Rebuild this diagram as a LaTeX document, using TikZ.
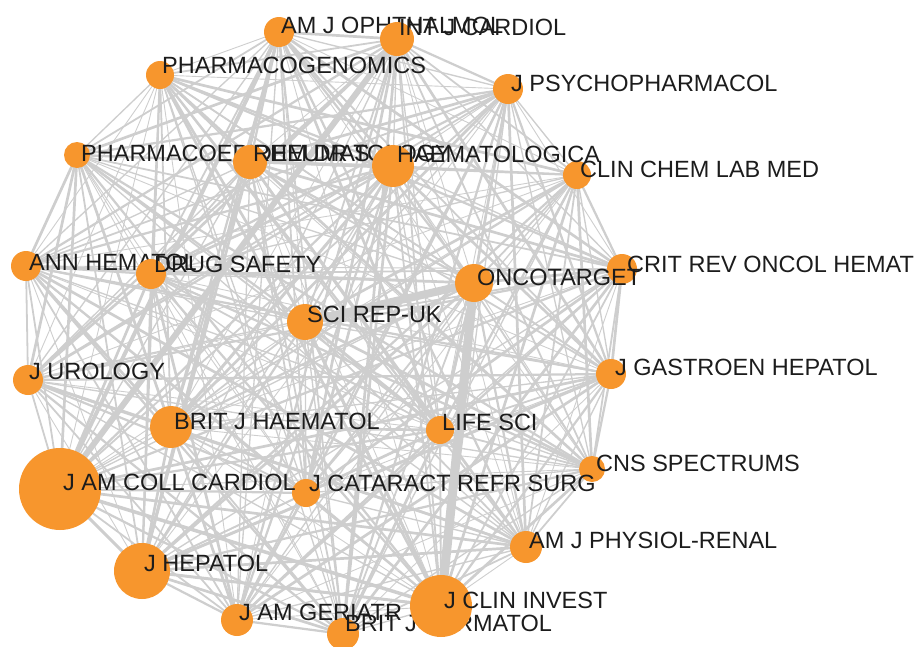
\documentclass[tikz,border=0pt]{standalone}
\usepackage{fontspec}
\setmainfont{Liberation Sans}
\definecolor{nodeor}{RGB}{247,150,45}
\definecolor{edgegr}{RGB}{206,206,206}
\definecolor{labtx}{RGB}{28,28,28}
\begin{document}
\begin{tikzpicture}[x=1pt,y=-1pt,
  jn/.style={circle, fill=nodeor, draw=none, inner sep=0pt, minimum size=#1},
  lab/.style={anchor=base west, inner sep=0pt, text=labtx, font=\fontsize{23.5}{26}\selectfont},
  edge/.style={draw=edgegr, line cap=round}]
\useasboundingbox (0,0) rectangle (922,646);
% node centres
\coordinate (ajo) at (279,32);
\coordinate (ijc) at (397,39);
\coordinate (pgx) at (160,75);
\coordinate (jpp) at (508,89);
\coordinate (pde) at (77,155);
\coordinate (rhe) at (250,162);
\coordinate (hae) at (393,166);
\coordinate (ccl) at (577,175);
\coordinate (ann) at (26,266);
\coordinate (dru) at (151,274);
\coordinate (onc) at (474,283);
\coordinate (crit) at (622,269);
\coordinate (sci) at (305,322);
\coordinate (uro) at (28,380);
\coordinate (gas) at (611,374);
\coordinate (bjh) at (171,427);
\coordinate (life) at (440,430);
\coordinate (cns) at (592,469);
\coordinate (jacc) at (60,489);
\coordinate (cat) at (306,493);
\coordinate (phy) at (526,547);
\coordinate (hep) at (142,571);
\coordinate (jci) at (441,606);
\coordinate (ger) at (237,620);
\coordinate (bjd) at (343,634);
% all links
\foreach \a [count=\i] in {ajo,ijc,pgx,jpp,pde,rhe,hae,ccl,ann,dru,onc,crit,sci,uro,gas,bjh,life,cns,jacc,cat,phy,hep,jci,ger,bjd}{
  \foreach \b [count=\j] in {ajo,ijc,pgx,jpp,pde,rhe,hae,ccl,ann,dru,onc,crit,sci,uro,gas,bjh,life,cns,jacc,cat,phy,hep,jci,ger,bjd}{
    \ifnum\j>\i
      \pgfmathsetmacro{\w}{0.9+0.45*mod(\i*7+\j*11,5)}
      \draw[edge, line width=\w pt] (\a) -- (\b);
    \fi
  }
}
% strong links
\draw[edge, line width=9pt] (onc) -- (jci);
\draw[edge, line width=8pt] (sci) -- (onc);
\draw[edge, line width=6pt] (ijc) -- (jacc);
\draw[edge, line width=4pt] (jacc) -- (ajo);
\draw[edge, line width=3.5pt] (jacc) -- (jci);
\draw[edge, line width=3pt] (sci) -- (jci);
\draw[edge, line width=3pt] (hep) -- (gas);
\draw[edge, line width=3pt] (hae) -- (bjh);
\draw[edge, line width=3pt] (onc) -- (life);
\draw[edge, line width=3pt] (sci) -- (life);
\draw[edge, line width=3pt] (jacc) -- (hep);
\draw[edge, line width=3pt] (hep) -- (jci);
% nodes and labels, small first
\node[jn=26] (pde-n) at (pde) {}; \node[lab] (pde-l) at (81,161) {PHARMACOEPIDEM DR S};
\node[jn=26] (cns-n) at (cns) {}; \node[lab] (cns-l) at (596,471) {CNS SPECTRUMS};
\node[jn=28] (pgx-n) at (pgx) {}; \node[lab] (pgx-l) at (162,73) {PHARMACOGENOMICS};
\node[jn=28] (ccl-n) at (ccl) {}; \node[lab] (ccl-l) at (580,177) {CLIN CHEM LAB MED};
\node[jn=28] (life-n) at (life) {}; \node[lab] (life-l) at (442,430) {LIFE SCI};
\node[jn=28] (cat-n) at (cat) {}; \node[lab] (cat-l) at (309,491) {J CATARACT REFR SURG};
\node[jn=30] (ajo-n) at (ajo) {}; \node[lab] (ajo-l) at (281,33) {AM J OPHTHALMOL};
\node[jn=30] (jpp-n) at (jpp) {}; \node[lab] (jpp-l) at (511,91) {J PSYCHOPHARMACOL};
\node[jn=30] (ann-n) at (ann) {}; \node[lab] (ann-l) at (29,270) {ANN HEMATOL};
\node[jn=30] (dru-n) at (dru) {}; \node[lab] (dru-l) at (154,272) {DRUG SAFETY};
\node[jn=30] (crit-n) at (crit) {}; \node[lab] (crit-l) at (627,272) {CRIT REV ONCOL HEMAT};
\node[jn=30] (uro-n) at (uro) {}; \node[lab] (uro-l) at (29,379) {J UROLOGY};
\node[jn=30] (gas-n) at (gas) {}; \node[lab] (gas-l) at (615,375) {J GASTROEN HEPATOL};
\node[jn=32] (phy-n) at (phy) {}; \node[lab] (phy-l) at (529,548) {AM J PHYSIOL-RENAL};
\node[jn=32] (bjd-n) at (bjd) {}; \node[lab] (bjd-l) at (345,631) {BRIT J DERMATOL};
\node[jn=32] (ger-n) at (ger) {}; \node[lab] (ger-l) at (239,620) {J AM GERIATR};
\node[jn=34] (ijc-n) at (ijc) {}; \node[lab] (ijc-l) at (399,35) {INT J CARDIOL};
\node[jn=34] (rhe-n) at (rhe) {}; \node[lab] (rhe-l) at (253,161) {RHEUMATOLOGY};
\node[jn=36] (sci-n) at (sci) {}; \node[lab] (sci-l) at (307,322) {SCI REP-UK};
\node[jn=38] (onc-n) at (onc) {}; \node[lab] (onc-l) at (477,285) {ONCOTARGET};
\node[jn=42] (hae-n) at (hae) {}; \node[lab] (hae-l) at (397,162) {HAEMATOLOGICA};
\node[jn=42] (bjh-n) at (bjh) {}; \node[lab] (bjh-l) at (174,429) {BRIT J HAEMATOL};
\node[jn=56] (hep-n) at (hep) {}; \node[lab] (hep-l) at (144,571) {J HEPATOL};
\node[jn=62] (jci-n) at (jci) {}; \node[lab] (jci-l) at (444,608) {J CLIN INVEST};
\node[jn=82] (jacc-n) at (jacc) {}; \node[lab] (jacc-l) at (63,490) {J AM COLL CARDIOL};
\end{tikzpicture}
\end{document}
